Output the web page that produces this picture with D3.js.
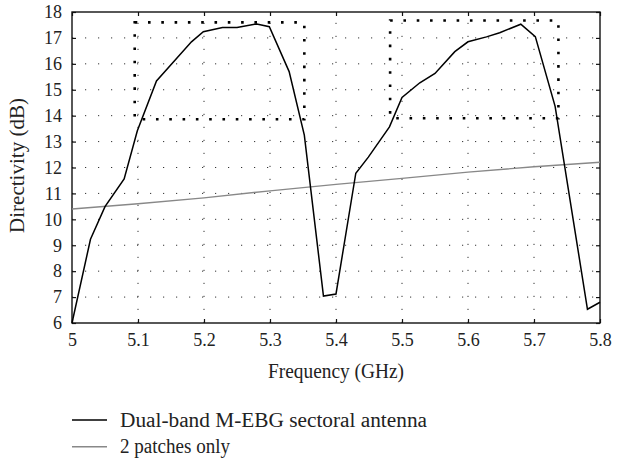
<!DOCTYPE html>
<html>
<head>
<meta charset="utf-8">
<script src="https://cdn.jsdelivr.net/npm/d3@7"></script>
<style>
  body { margin: 0; background: #fff; }
  svg text { font-family: "Liberation Serif", "DejaVu Serif", "Times New Roman", Times, serif; fill: #222; }
</style>
</head>
<body>
<div id="chart"></div>
<script>
// data
var freqEBG = [5.0, 5.028, 5.05, 5.079, 5.099, 5.128, 5.181, 5.199, 5.228, 5.25, 5.28, 5.299, 5.329, 5.352, 5.381, 5.4, 5.43, 5.449, 5.481, 5.5, 5.527, 5.55, 5.58, 5.6, 5.628, 5.648, 5.68, 5.702, 5.732, 5.781, 5.8]
var dirEBG  = [6.0, 9.23, 10.49, 11.56, 13.42, 15.34, 16.85, 17.24, 17.4, 17.4, 17.54, 17.43, 15.7, 13.25, 7.04, 7.12, 11.78, 12.4, 13.57, 14.7, 15.27, 15.63, 16.47, 16.85, 17.04, 17.2, 17.53, 17.05, 14.36, 6.53, 6.8]
var freqPatch = [5.0, 5.1, 5.2, 5.3, 5.4, 5.5, 5.6, 5.7, 5.8]
var dirPatch  = [10.4, 10.6, 10.83, 11.1, 11.35, 11.58, 11.82, 12.03, 12.2]
// dotted band boxes [f0, f1, dBlow, dBhigh]
var bands = [[5.095, 5.352, 13.86, 17.6], [5.482, 5.737, 13.9, 17.67]]
var xTicks = [5, 5.1, 5.2, 5.3, 5.4, 5.5, 5.6, 5.7, 5.8]
var yTicks = [6, 7, 8, 9, 10, 11, 12, 13, 14, 15, 16, 17, 18]
var legendNames = ["Dual-band M-EBG sectoral antenna", "2 patches only"]

var serif = '"Liberation Serif", "DejaVu Serif", "Times New Roman", Times, serif'

var screen = {width: 617, height: 461}
var margin = {top: 12, left: 72, right: 17, bottom: 138}
var w = screen.width - margin.left - margin.right
var h = screen.height - margin.top - margin.bottom

var xScale = d3.scaleLinear().domain([5, 5.8]).range([margin.left, margin.left + w])
var yScale = d3.scaleLinear().domain([6, 18]).range([margin.top + h, margin.top])

var svg = d3.select("#chart").append("svg")
  .attr("width", screen.width)
  .attr("height", screen.height)

// grid
svg.append("g").selectAll("line.gy")
  .data(yTicks.slice(1, -1)).enter().append("line")
  .attr("x1", margin.left).attr("x2", margin.left + w)
  .attr("y1", d => yScale(d)).attr("y2", d => yScale(d))
  .style("stroke", "#333").style("stroke-width", 1)
  .style("stroke-dasharray", "1.2,11.8")
svg.append("g").selectAll("line.gx")
  .data(xTicks.slice(1, -1)).enter().append("line")
  .attr("x1", d => xScale(d)).attr("x2", d => xScale(d))
  .attr("y1", margin.top + h).attr("y2", margin.top)
  .style("stroke", "#333").style("stroke-width", 1)
  .style("stroke-dasharray", "1.2,11.8")

// axes (ticks inward on all four sides)
svg.append("g").attr("transform", "translate(0," + (margin.top + h) + ")")
  .call(d3.axisBottom(xScale).tickValues(xTicks).tickSizeInner(-4).tickSizeOuter(0).tickPadding(10).tickFormat(d3.format("")))
svg.append("g").attr("transform", "translate(" + margin.left + ",0)")
  .call(d3.axisLeft(yScale).tickValues(yTicks).tickSizeInner(-4).tickSizeOuter(0).tickPadding(10))
svg.append("g").attr("transform", "translate(0," + margin.top + ")")
  .call(d3.axisTop(xScale).tickValues(xTicks).tickSizeInner(-4).tickSizeOuter(0).tickFormat(""))
svg.append("g").attr("transform", "translate(" + (margin.left + w) + ",0)")
  .call(d3.axisRight(yScale).tickValues(yTicks).tickSizeInner(-4).tickSizeOuter(0).tickFormat(""))
svg.selectAll(".domain").remove()
svg.selectAll(".tick line").style("stroke", "#111").style("stroke-width", 1.2)
svg.selectAll("g[font-family]").attr("font-family", null).attr("font-size", null)
svg.selectAll(".tick text").style("font-size", "18px")
  .style("font-family", serif).style("fill", "#222")

svg.append("rect")
  .attr("x", margin.left).attr("y", margin.top)
  .attr("width", w).attr("height", h)
  .style("fill", "none").style("stroke", "#111").style("stroke-width", 1.4)

// dotted band boxes
svg.append("g").selectAll("rect")
  .data(bands).enter().append("rect")
  .attr("x", d => xScale(d[0])).attr("y", d => yScale(d[3]))
  .attr("width", d => xScale(d[1]) - xScale(d[0]))
  .attr("height", d => yScale(d[2]) - yScale(d[3]))
  .style("fill", "none").style("stroke", "#000").style("stroke-width", 2.6)
  .style("stroke-dasharray", "2.6,10.7")

var drawPath = d3.line()
  .x(d => xScale(d[0]))
  .y(d => yScale(d[1]))

svg.append("path")
  .attr("d", drawPath(d3.zip(freqPatch, dirPatch)))
  .style("fill", "none").style("stroke", "#888").style("stroke-width", 1.4)

svg.append("path")
  .attr("d", drawPath(d3.zip(freqEBG, dirEBG)))
  .style("fill", "none").style("stroke", "#000").style("stroke-width", 1.5)

// axis titles
svg.append("text")
  .attr("x", margin.left + w / 2).attr("y", 378)
  .attr("text-anchor", "middle")
  .attr("textLength", 136).attr("lengthAdjust", "spacingAndGlyphs")
  .style("font-size", "20px").style("font-family", serif)
  .text("Frequency (GHz)")
svg.append("text")
  .attr("transform", "translate(24," + (margin.top + h / 2 - 2) + ") rotate(-90)")
  .attr("text-anchor", "middle")
  .attr("textLength", 135).attr("lengthAdjust", "spacingAndGlyphs")
  .style("font-size", "20px").style("font-family", serif)
  .text("Directivity (dB)")

// legend
var leg = svg.append("g")
leg.selectAll("line").data(legendNames).enter().append("line")
  .attr("x1", 72).attr("x2", 107)
  .attr("y1", (d, i) => 420 + i * 26.7).attr("y2", (d, i) => 420 + i * 26.7)
  .style("stroke", (d, i) => i ? "#888" : "#000")
  .style("stroke-width", (d, i) => i ? 1.4 : 1.6)
leg.selectAll("text").data(legendNames).enter().append("text")
  .attr("x", 120).attr("y", (d, i) => 426.5 + i * 26.7)
  .attr("textLength", (d, i) => i ? 110 : 307).attr("lengthAdjust", "spacingAndGlyphs")
  .style("font-size", "20px").style("font-family", serif)
  .text(d => d)
</script>
</body>
</html>
